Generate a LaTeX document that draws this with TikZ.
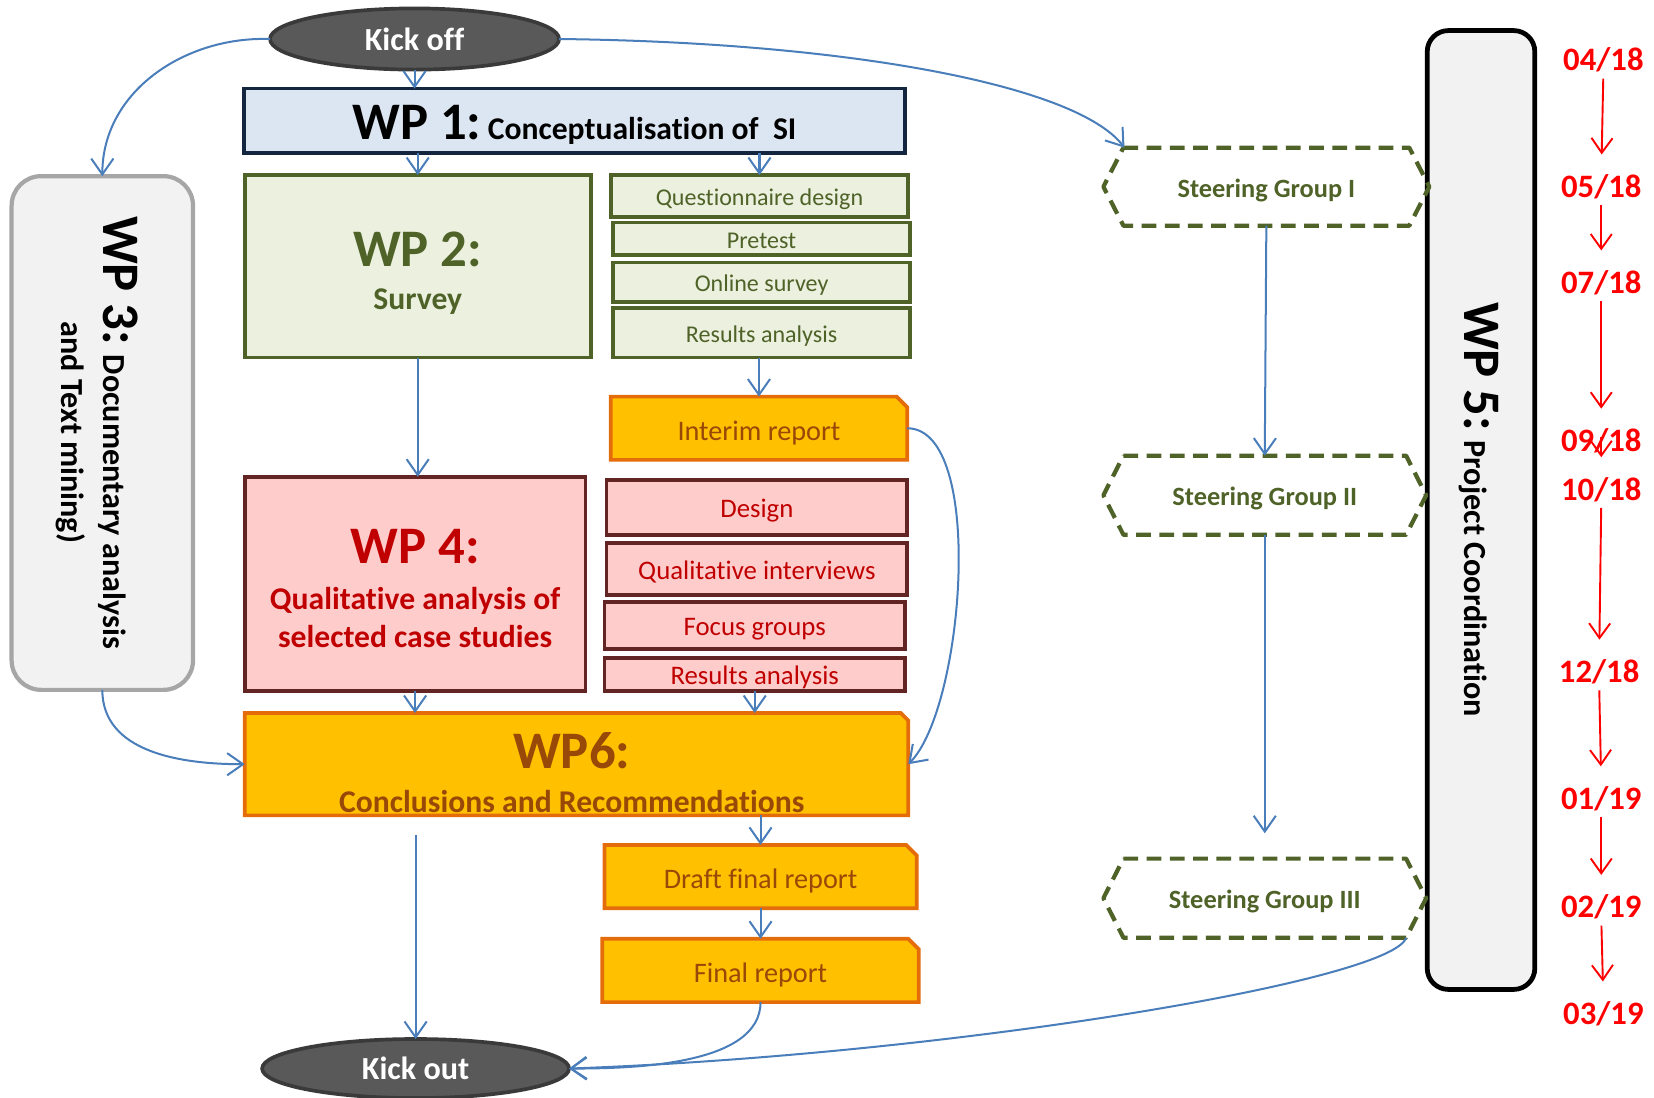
\documentclass[tikz,border=0pt]{standalone}
\usepackage{fontspec}
\setmainfont{Carlito}[Ligatures={NoCommon}]
\usetikzlibrary{shapes.geometric,shapes.misc,arrows.meta}
\definecolor{arrblue}{HTML}{4A7EBB}
\definecolor{kickf}{HTML}{595959}
\definecolor{kickb}{HTML}{3A3A3A}
\definecolor{wpa}{HTML}{DCE6F2}
\definecolor{wpab}{HTML}{14253F}
\definecolor{grf}{HTML}{EBF1DE}
\definecolor{grb}{HTML}{4F6228}
\definecolor{pkf}{HTML}{FFCCCC}
\definecolor{pkb}{HTML}{632523}
\definecolor{pkt}{HTML}{C00000}
\definecolor{orf}{HTML}{FFC000}
\definecolor{orb}{HTML}{E46C0A}
\definecolor{ort}{HTML}{984807}
\definecolor{gyf}{HTML}{F2F2F2}
\definecolor{gyb}{HTML}{A6A6A6}
\newcommand\myfs[2]{\fontsize{#1}{#2}\selectfont}
\begin{document}
\begin{tikzpicture}[x=1pt,y=1pt,
  every node/.style={inner sep=0pt, outer sep=0pt, align=center},
  kick/.style={ellipse, draw=kickb, fill=kickf, line width=3.5pt, text=white, font=\myfs{30.5}{32}\bfseries},
  wpone/.style={rectangle, draw=wpab, fill=wpa, line width=3.5pt, text=black},
  grbig/.style={rectangle, draw=grb, fill=grf, line width=3.5pt},
  grsmall/.style={rectangle, draw=grb, fill=grf, line width=3.5pt, text=grb, font=\myfs{22.8}{24}, text height=18pt, text depth=0pt},
  pkbig/.style={rectangle, draw=pkb, fill=pkf, line width=3.5pt},
  pksmall/.style={rectangle, draw=pkb, fill=pkf, line width=3.5pt, text=pkt, font=\myfs{25.4}{27}, text height=19pt, text depth=0pt},
  orbox/.style={chamfered rectangle, chamfered rectangle corners=north east, chamfered rectangle xsep=5pt, chamfered rectangle ysep=5pt, draw=orb, fill=orf, line width=3.5pt, text=ort, font=\myfs{26.8}{28}, text height=23pt, text depth=0pt},
  greybox/.style={rectangle, fill=gyf},
  sgbox/.style={rectangle, draw=none, text=grb, font=\myfs{25}{27}\bfseries, text height=20pt, text depth=0pt},
  sgline/.style={draw=grb, line width=4pt, dash pattern=on 14pt off 8pt, line join=round},
  datelbl/.style={text=red, font=\myfs{31}{32}\bfseries},
  conn/.style={draw=arrblue, line width=1.9pt, -{Straight Barb[length=15pt,width=21pt]}},
  rconn/.style={draw=red, line width=1.8pt, -{Straight Barb[length=14pt,width=20pt]}}
]
\useasboundingbox (0,0) rectangle (1568,1040);

% top
\node[kick, minimum width=274pt, minimum height=58pt] (kickoff) at (393,1003) {Kick off};
\node[wpone, minimum width=627pt, minimum height=61pt, text height=41pt, text depth=6pt] (wp1) at (544.5,925.5)
  {{\myfs{50}{50}\bfseries WP 1:}\hspace{6pt}{\myfs{30}{32}\bfseries Conceptualisation of\ \ SI}};

% WP2
\node[grbig, minimum width=328pt, minimum height=173pt] (wp2) at (396,787.5) {};
\node[text=grb, font=\myfs{30}{40}\bfseries] (wp2t) at (396,781) {{\myfs{50}{50}\selectfont WP 2:}\\Survey};
\node[grsmall, minimum width=282pt, minimum height=40pt] (qd) at (720,854) {Questionnaire design};
\node[grsmall, minimum width=282pt, minimum height=31pt] (pre) at (722,813.5) {Pretest};
\node[grsmall, minimum width=282pt, minimum height=37pt] (onl) at (722,772.5) {Online survey};
\node[grsmall, minimum width=282pt, minimum height=47pt] (res1) at (722,724.5) {Results analysis};

\node[orbox, minimum width=281pt, minimum height=60pt] (interim) at (719.5,634) {Interim report};

% WP4
\node[pkbig, minimum width=323pt, minimum height=203pt] (wp4) at (393.5,486.5) {};
\node[text=pkt, font=\myfs{30}{36}\bfseries] (wp4t) at (393.5,482)
  {{\myfs{50}{50}\selectfont WP 4:}\\[7pt]Qualitative analysis of\\selected case studies};
\node[pksmall, minimum width=285pt, minimum height=52pt] (des) at (717.5,559) {Design};
\node[pksmall, minimum width=285pt, minimum height=49pt] (qi) at (717.5,500.5) {Qualitative interviews};
\node[pksmall, minimum width=285pt, minimum height=44pt] (fg) at (715.5,447) {Focus groups};
\node[pksmall, minimum width=285pt, minimum height=31pt] (res2) at (715.5,400.5) {Results analysis};

% WP6
\node[orbox, minimum width=629pt, minimum height=97pt, chamfered rectangle xsep=7pt, chamfered rectangle ysep=7pt] (wp6) at (546.5,315.5) {};
\node[text=ort, font=\myfs{30}{41}\bfseries] (wp6t) at (542,307.5) {{\myfs{50}{50}\selectfont WP6:}\\Conclusions and Recommendations};

\node[orbox, minimum width=296pt, minimum height=60pt] (draft) at (721,209) {Draft final report};
\node[orbox, minimum width=300pt, minimum height=60pt] (final) at (721,120) {Final report};

\node[kick, minimum width=291pt, minimum height=56pt] (kickout) at (394,27) {Kick out};

% WP3
\node[greybox, rounded corners=28pt, draw=gyb, line width=4pt, minimum width=172pt, minimum height=487pt] (wp3) at (97,629.5) {};
\node[rotate=-90, font=\myfs{30.5}{40}\bfseries] (wp3t) at (92,630) {{\myfs{50}{50}\selectfont WP 3:} Documentary analysis\\and Text mining)};

% WP5
\node[greybox, rounded corners=20pt, draw=black, line width=4.5pt, minimum width=102pt, minimum height=909pt] (wp5) at (1404,556.5) {};
\node[rotate=-90, font=\myfs{30.5}{32}\bfseries] (wp5t) at (1402,557) {{\myfs{50}{50}\selectfont WP 5:} Project Coordination};

% steering groups
\node[sgbox, minimum width=309pt, minimum height=74pt] (sg1) at (1200.5,863) {Steering Group I};
\node[sgbox, minimum width=306pt, minimum height=75pt] (sg2) at (1199,570.5) {Steering Group II};
\node[sgbox, minimum width=306pt, minimum height=75pt] (sg3) at (1199,188.5) {Steering Group III};
\foreach \s in {sg1,sg2,sg3}
  \draw[sgline] ([xshift=19pt]\s.north west) -- ([xshift=-19pt]\s.north east) -- (\s.east)
     -- ([xshift=-19pt]\s.south east) -- ([xshift=19pt]\s.south west) -- (\s.west) -- cycle;

% dates
\node[datelbl] (d1) at (1520,983) {04/18};
\node[datelbl] (d2) at (1518,863) {05/18};
\node[datelbl] (d3) at (1518,772) {07/18};
\node[datelbl] (d4) at (1518,622) {09/18};
\node[datelbl] (d5) at (1518,576) {10/18};
\node[datelbl] (d6) at (1516,403) {12/18};
\node[datelbl] (d7) at (1518,283) {01/19};
\node[datelbl] (d8) at (1518,180) {02/19};
\node[datelbl] (d9) at (1520,79) {03/19};
\foreach \a/\b in {d1/d2,d2/d3,d3/d4,d5/d6,d6/d7,d7/d8,d8/d9}
  \draw[rconn, shorten <=6pt, shorten >=19pt] (\a.south) -- (\b.north);
\draw[rconn, shorten >=19pt] ([yshift=4pt]d4.center) -- (d5.north);

% blue connectors
\draw[conn] (kickoff.south) -- (kickoff.south |- wp1.north);
\draw[conn] (kickoff.west) to[out=178,in=90] (wp3.north);
\draw[conn] (kickoff.east) .. controls (800,1000) and (1020,960) .. ([xshift=20pt]sg1.north west);
\draw[conn] (wp2.north |- wp1.south) -- (wp2.north);
\draw[conn] (qd.north |- wp1.south) -- (qd.north);
\draw[conn] (interim.north |- res1.south) -- (interim.north);
\draw[conn] (wp2.south) -- (wp2.south |- wp4.north);
\draw[conn] (interim.east) to[out=0,in=45,looseness=0.6] (wp6.east);
\draw[conn] (wp3.south) to[out=-90,in=180] (wp6.west);
\draw[conn] (wp4.south) -- (wp4.south |- wp6.north);
\draw[conn] (res2.south) -- (res2.south |- wp6.north);
\draw[conn] (draft.north |- wp6.south) -- (draft.north);
\draw[conn] (draft.south) -- (final.north);
\draw[conn, shorten <=19pt] (kickout.north |- wp6.south) -- (kickout.north);
\draw[conn] (final.south) to[out=-90,in=0,looseness=0.8] (kickout.east);
\draw[conn] ([xshift=-19pt]sg3.south east) .. controls (1320,110) and (900,40) .. (kickout.east);
\draw[conn] (sg1.south) -- (sg2.north);
\draw[conn, shorten >=24pt] (sg2.south) -- (sg3.north);
\end{tikzpicture}
\end{document}
